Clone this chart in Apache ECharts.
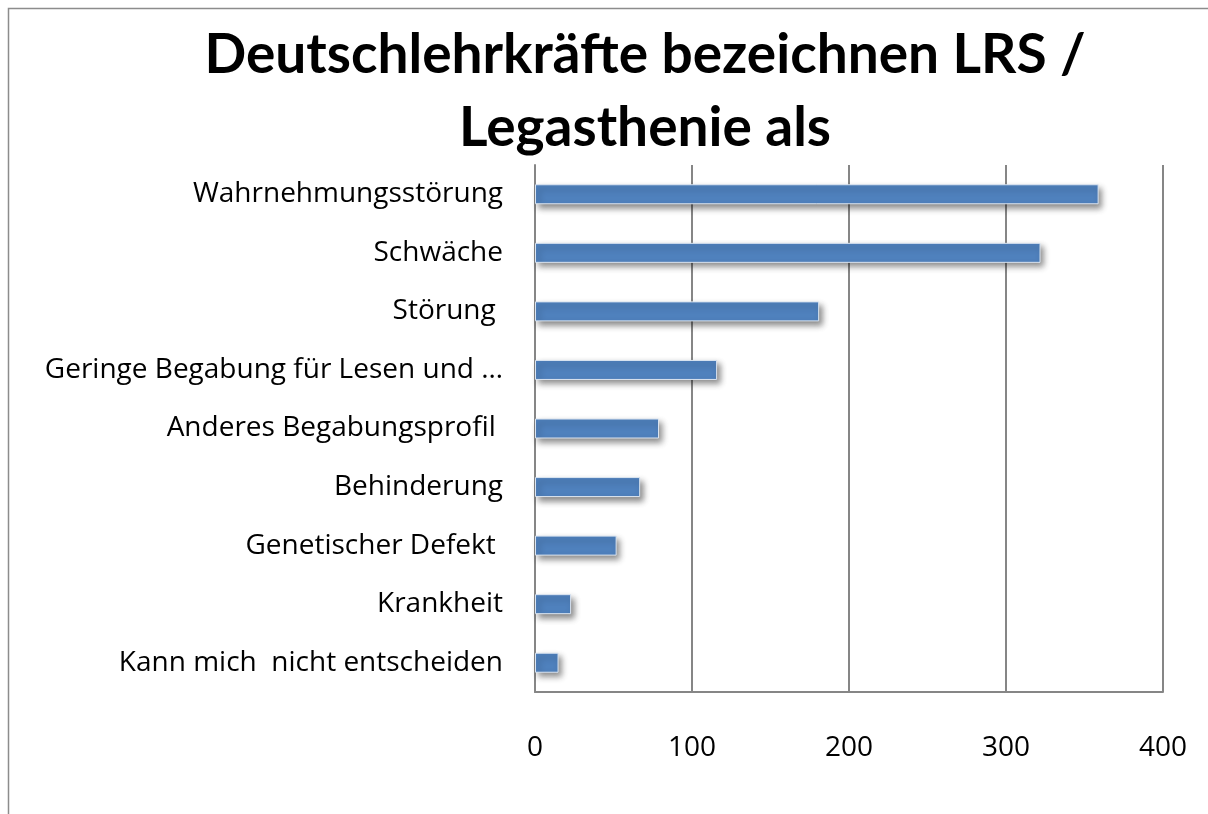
<!DOCTYPE html>
<html>
<head>
<meta charset="utf-8">
<script src="https://cdn.jsdelivr.net/npm/echarts@6/dist/echarts.min.js"></script>
<style>
  html, body { margin: 0; padding: 0; background: #fff; }
  #main { width: 1208px; height: 814px; }
</style>
</head>
<body>
<div id="main"></div>
<script>
// categories, top to bottom (trailing spaces as in the original labels)
var categories = [
    'Wahrnehmungsstörung',
    'Schwäche',
    'Störung ',
    'Geringe Begabung für Lesen und …',
    'Anderes Begabungsprofil ',
    'Behinderung',
    'Genetischer Defekt ',
    'Krankheit',
    'Kann mich  nicht entscheiden'
];
var values = [359, 322, 181, 116, 79, 67, 52, 23, 15];
var xTicks = [0, 100, 200, 300, 400];

var chart = echarts.init(document.getElementById('main'), null, { renderer: 'canvas' });

chart.setOption({
    backgroundColor: '#fff',
    animation: false,
    title: {
        text: 'Deutschlehrkräfte bezeichnen LRS /\nLegasthenie als',
        left: 640,
        top: 14,
        textAlign: 'center',
        textStyle: {
            fontFamily: 'Lato',
            fontWeight: 'bold',
            fontSize: 55,
            lineHeight: 73,
            color: '#000'
        }
    },
    graphic: [{
        type: 'rect',
        shape: { x: 8.5, y: 8.5, width: 1300, height: 900 },
        style: { fill: null, stroke: '#8c8c8c', lineWidth: 1.5 },
        silent: true
    }],
    grid: {
        left: 535,
        right: 45,
        top: 165,
        bottom: 122,
        containLabel: false
    },
    xAxis: {
        type: 'value',
        min: 0,
        max: 400,
        interval: 100,
        axisLine: { show: true, lineStyle: { color: '#868686', width: 2 } },
        axisTick: { show: false },
        splitLine: { show: true, lineStyle: { color: '#868686', width: 2 } },
        axisLabel: {
            margin: 42,
            fontFamily: 'Open Sans',
            fontSize: 28,
            color: '#000',
            formatter: function (v) { return xTicks.indexOf(v) >= 0 ? String(v) : ''; }
        }
    },
    yAxis: {
        type: 'category',
        inverse: true,
        data: categories,
        axisLine: { show: true, onZero: false, lineStyle: { color: '#868686', width: 2 } },
        axisTick: { show: false },
        axisLabel: {
            margin: 32,
            fontFamily: 'Open Sans',
            fontSize: 28,
            color: '#000'
        }
    },
    series: [{
        type: 'bar',
        data: values,
        barWidth: 20,
        itemStyle: {
            color: '#4f81bd',
            borderColor: '#dbe5f1',
            borderWidth: 1,
            shadowColor: 'rgba(0,0,0,0.45)',
            shadowBlur: 6,
            shadowOffsetX: 3,
            shadowOffsetY: 4
        }
    }]
});
</script>
</body>
</html>
